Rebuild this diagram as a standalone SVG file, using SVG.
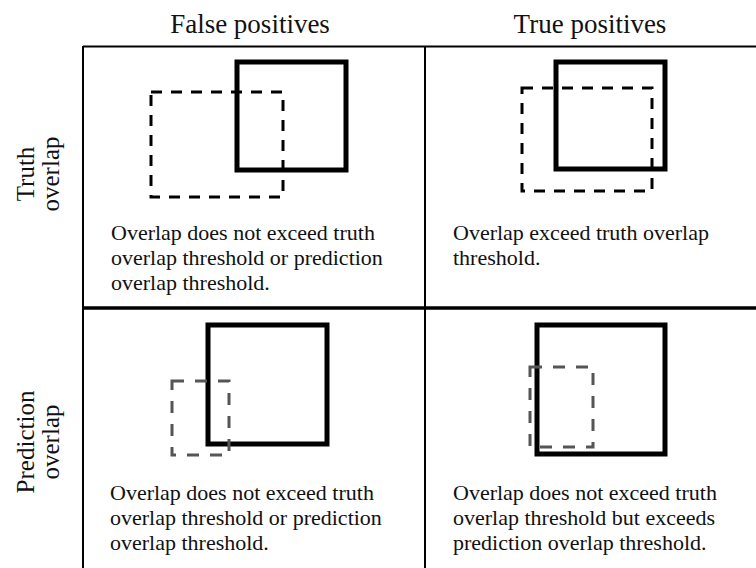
<svg xmlns="http://www.w3.org/2000/svg" width="756" height="568" viewBox="0 0 756 568">
<style>
text{font-family:"Liberation Serif","Times New Roman",serif;fill:#111}
.hd{font-size:27px;text-anchor:middle}
.sd{font-size:25px;text-anchor:middle}
.bd{font-size:22px}
.grid{stroke:#000;fill:none}
.truth{fill:none;stroke:#000;stroke-width:5}
.predA{fill:none;stroke:#000;stroke-width:3;stroke-dasharray:11 9}
.predB{fill:none;stroke:#555;stroke-width:3;stroke-dasharray:12 11}
</style>
<rect width="756" height="568" fill="#fff"/>
<g id="headers">
<text class="hd" x="250" y="33">False positives</text>
<text class="hd" x="590" y="33">True positives</text>
</g>
<g id="rowlabels">
<text class="sd" transform="translate(34,174) rotate(-90)">Truth</text>
<text class="sd" transform="translate(59,174) rotate(-90)">overlap</text>
<text class="sd" transform="translate(34,442) rotate(-90)">Prediction</text>
<text class="sd" transform="translate(59,442) rotate(-90)">overlap</text>
</g>
<g id="grid" class="grid">
<line x1="83" y1="46.5" x2="756" y2="46.5" stroke-width="2"/>
<line x1="83" y1="46" x2="83" y2="568" stroke-width="2"/>
<line x1="425" y1="46" x2="425" y2="568" stroke-width="2"/>
<line x1="83" y1="308" x2="756" y2="308" stroke-width="3.5"/>
</g>
<g id="cell-fp-truth">
<rect class="predA" x="151" y="92" width="132" height="105"/>
<rect class="truth" x="237" y="62" width="109" height="108"/>
<text class="bd" x="111" y="240">Overlap does not exceed truth</text>
<text class="bd" x="111" y="265">overlap threshold or prediction</text>
<text class="bd" x="111" y="290">overlap threshold.</text>
</g>
<g id="cell-tp-truth">
<rect class="predA" x="522" y="88" width="130" height="103"/>
<rect class="truth" x="556" y="62" width="109" height="107"/>
<text class="bd" x="453" y="240">Overlap exceed truth overlap</text>
<text class="bd" x="453" y="265">threshold.</text>
</g>
<g id="cell-fp-pred">
<rect class="truth" x="208" y="325" width="119" height="119"/>
<rect class="predB" x="172" y="381" width="57" height="74"/>
<text class="bd" x="110" y="500">Overlap does not exceed truth</text>
<text class="bd" x="110" y="525">overlap threshold or prediction</text>
<text class="bd" x="110" y="550">overlap threshold.</text>
</g>
<g id="cell-tp-pred">
<rect class="truth" x="537" y="325" width="128" height="129"/>
<rect class="predB" x="530" y="367" width="63" height="80"/>
<text class="bd" x="453" y="500">Overlap does not exceed truth</text>
<text class="bd" x="453" y="525">overlap threshold but exceeds</text>
<text class="bd" x="453" y="550">prediction overlap threshold.</text>
</g>
</svg>
